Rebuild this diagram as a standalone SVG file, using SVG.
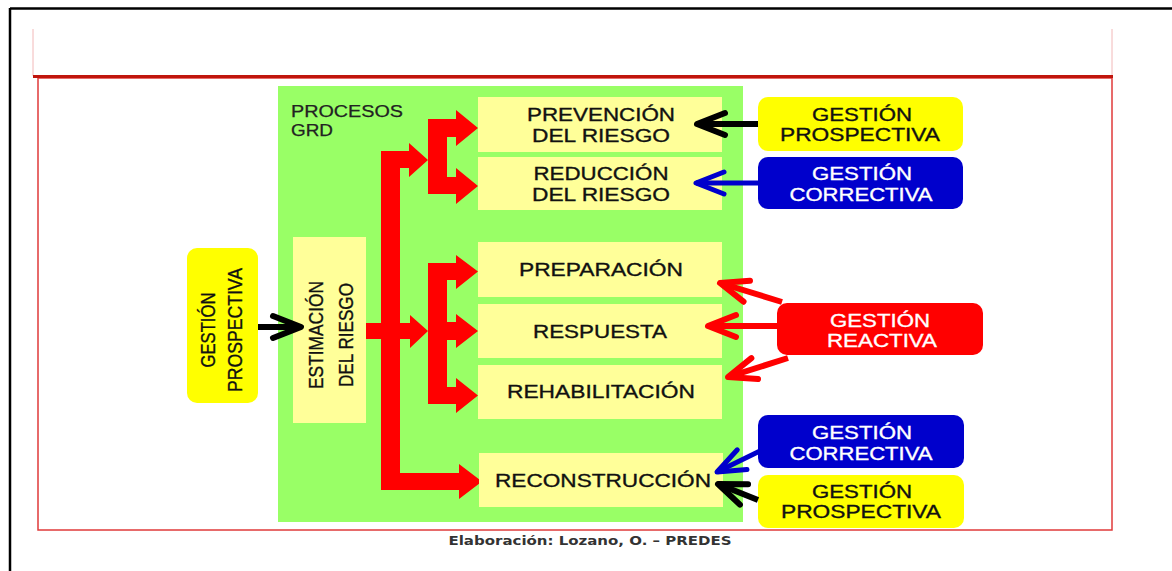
<svg xmlns="http://www.w3.org/2000/svg" width="1172" height="571" viewBox="0 0 1172 571">
<style>
.lbl{font-family:"Liberation Sans",Arial,sans-serif;font-size:19px;fill:#111;stroke:#111;stroke-width:0.35px;text-anchor:middle}
.wl{fill:#fff;stroke:#fff}
.big{font-size:21px}
.ybox{fill:#FFFF99}
.gy{fill:#FFFF00}
.gb{fill:#0000CC}
.gr{fill:#FF0000}
.red{fill:#FF0000}
.conn{fill:none;stroke-linecap:butt}
</style>
<defs>
<marker id="mk-black" markerUnits="userSpaceOnUse" markerWidth="40" markerHeight="30" refX="0" refY="0" orient="auto" overflow="visible">
<path d="M-28,-11 L0,0 L-28,11" fill="none" stroke="#000" stroke-width="6" stroke-linecap="round" stroke-linejoin="round"/>
</marker>
<marker id="mk-blue" markerUnits="userSpaceOnUse" markerWidth="40" markerHeight="30" refX="0" refY="0" orient="auto" overflow="visible">
<path d="M-28,-11 L0,0 L-28,11" fill="none" stroke="#0000CC" stroke-width="5" stroke-linecap="round" stroke-linejoin="round"/>
</marker>
<marker id="mk-red" markerUnits="userSpaceOnUse" markerWidth="40" markerHeight="30" refX="0" refY="0" orient="auto" overflow="visible">
<path d="M-28,-11 L0,0 L-28,11" fill="none" stroke="#FF0000" stroke-width="6" stroke-linecap="round" stroke-linejoin="round"/>
</marker>
</defs>
<rect width="1172" height="571" fill="#fff"/>
<g id="frame">
<line x1="10" y1="8.5" x2="1172" y2="8.5" stroke="#000" stroke-width="2.5"/>
<line x1="10" y1="8" x2="10" y2="571" stroke="#000" stroke-width="2.5"/>
<line x1="33" y1="29" x2="33" y2="76" stroke="#F2B8B8" stroke-width="1"/>
<line x1="1112" y1="29" x2="1112" y2="76" stroke="#F2B8B8" stroke-width="1"/>
<rect x="38" y="78" width="1074" height="452" fill="none" stroke="#E03A3A" stroke-width="1.5"/>
<line x1="33" y1="76.5" x2="1113" y2="76.5" stroke="#C0150C" stroke-width="3"/>
</g>
<g id="procesos-grd">
<rect x="278" y="86" width="465" height="436" fill="#99FF66"/>
<text x="291" y="117" style="font-family:'Liberation Sans',Arial,sans-serif;font-size:16px;fill:#222;stroke:#222;stroke-width:0.25px" textLength="112" lengthAdjust="spacingAndGlyphs">PROCESOS</text>
<text x="291" y="136" style="font-family:'Liberation Sans',Arial,sans-serif;font-size:16px;fill:#222;stroke:#222;stroke-width:0.25px" textLength="42" lengthAdjust="spacingAndGlyphs">GRD</text>
</g>
<g id="process-arrows" class="red">
<path d="M381,151 L409,151 L409,143 L428,160 L409,177 L409,168 L400,168 L400,473 L459,473 L459,464 L482,481.5 L459,499 L459,490 L381,490 Z"/>
<path d="M366,323 L410,323 L410,315 L428,331 L410,348 L410,339 L366,339 Z"/>
<path d="M428,119 L456,119 L456,110 L478,128 L456,146 L456,137 L447,137 L447,177 L456,177 L456,168 L478,186 L456,204 L456,194 L428,194 Z"/>
<path d="M428,263 L456,263 L456,255 L478,271.5 L456,289 L456,280 L447,280 L447,322 L456,322 L456,314 L478,331 L456,348 L456,340 L447,340 L447,387 L456,387 L456,378 L478,395.5 L456,413 L456,404 L428,404 Z"/>
</g>
<g id="estimacion">
<rect class="ybox" x="293" y="237" width="73" height="186"/>
<text class="lbl big" transform="translate(323,335) rotate(-90)" textLength="108" lengthAdjust="spacingAndGlyphs">ESTIMACIÓN</text>
<text class="lbl big" transform="translate(353,335) rotate(-90)" textLength="104" lengthAdjust="spacingAndGlyphs">DEL RIESGO</text>
</g>
<g id="prevencion">
<rect class="ybox" x="478" y="97" width="244" height="55"/>
<text class="lbl" x="601" y="121" textLength="148" lengthAdjust="spacingAndGlyphs">PREVENCIÓN</text>
<text class="lbl" x="601" y="142" textLength="138" lengthAdjust="spacingAndGlyphs">DEL RIESGO</text>
</g>
<g id="reduccion">
<rect class="ybox" x="478" y="157" width="244" height="53"/>
<text class="lbl" x="601" y="180" textLength="135" lengthAdjust="spacingAndGlyphs">REDUCCIÓN</text>
<text class="lbl" x="601" y="201" textLength="138" lengthAdjust="spacingAndGlyphs">DEL RIESGO</text>
</g>
<g id="preparacion">
<rect class="ybox" x="478" y="242" width="244" height="55"/>
<text class="lbl" x="601" y="276" textLength="164" lengthAdjust="spacingAndGlyphs">PREPARACIÓN</text>
</g>
<g id="respuesta">
<rect class="ybox" x="478" y="304" width="244" height="54"/>
<text class="lbl" x="600" y="338" textLength="134" lengthAdjust="spacingAndGlyphs">RESPUESTA</text>
</g>
<g id="rehabilitacion">
<rect class="ybox" x="478" y="365" width="244" height="54"/>
<text class="lbl" x="601" y="398" textLength="188" lengthAdjust="spacingAndGlyphs">REHABILITACIÓN</text>
</g>
<g id="reconstruccion">
<rect class="ybox" x="479" y="453" width="244" height="54"/>
<text class="lbl" x="603" y="487" textLength="216" lengthAdjust="spacingAndGlyphs">RECONSTRUCCIÓN</text>
</g>
<g id="gestion-prospectiva-left">
<rect class="gy" x="187" y="248" width="71" height="155" rx="10"/>
<text class="lbl big" transform="translate(215,330) rotate(-90)" textLength="75" lengthAdjust="spacingAndGlyphs">GESTIÓN</text>
<text class="lbl big" transform="translate(242,330) rotate(-90)" textLength="124" lengthAdjust="spacingAndGlyphs">PROSPECTIVA</text>
</g>
<g id="gestion-prospectiva-top">
<rect class="gy" x="758" y="97" width="205" height="54" rx="10"/>
<text class="lbl" x="862" y="121" textLength="100" lengthAdjust="spacingAndGlyphs">GESTIÓN</text>
<text class="lbl" x="860" y="141" textLength="160" lengthAdjust="spacingAndGlyphs">PROSPECTIVA</text>
</g>
<g id="gestion-correctiva-top">
<rect class="gb" x="758" y="157" width="205" height="52" rx="10"/>
<text class="lbl wl" x="862" y="180" textLength="100" lengthAdjust="spacingAndGlyphs">GESTIÓN</text>
<text class="lbl wl" x="861" y="201" textLength="143" lengthAdjust="spacingAndGlyphs">CORRECTIVA</text>
</g>
<g id="gestion-reactiva">
<rect class="gr" x="777" y="303" width="206" height="52" rx="10"/>
<text class="lbl wl" x="880" y="327" textLength="100" lengthAdjust="spacingAndGlyphs">GESTIÓN</text>
<text class="lbl wl" x="882" y="347" textLength="110" lengthAdjust="spacingAndGlyphs">REACTIVA</text>
</g>
<g id="gestion-correctiva-bottom">
<rect class="gb" x="758" y="415" width="206" height="53" rx="10"/>
<text class="lbl wl" x="862" y="439" textLength="100" lengthAdjust="spacingAndGlyphs">GESTIÓN</text>
<text class="lbl wl" x="861" y="460" textLength="143" lengthAdjust="spacingAndGlyphs">CORRECTIVA</text>
</g>
<g id="gestion-prospectiva-bottom">
<rect class="gy" x="758" y="475" width="206" height="53" rx="10"/>
<text class="lbl" x="862" y="498" textLength="100" lengthAdjust="spacingAndGlyphs">GESTIÓN</text>
<text class="lbl" x="861" y="518" textLength="160" lengthAdjust="spacingAndGlyphs">PROSPECTIVA</text>
</g>
<g id="connectors" class="conn">
<line x1="258" y1="327" x2="301" y2="327" stroke="#000" stroke-width="6" marker-end="url(#mk-black)"/>
<line x1="758" y1="124" x2="697" y2="124" stroke="#000" stroke-width="6" marker-end="url(#mk-black)"/>
<line x1="758" y1="183" x2="696" y2="183" stroke="#0000CC" stroke-width="5" marker-end="url(#mk-blue)"/>
<line x1="782" y1="302" x2="720" y2="283" stroke="#FF0000" stroke-width="6" marker-end="url(#mk-red)"/>
<line x1="778" y1="326" x2="708" y2="326" stroke="#FF0000" stroke-width="6" marker-end="url(#mk-red)"/>
<line x1="788" y1="358" x2="728" y2="377" stroke="#FF0000" stroke-width="6" marker-end="url(#mk-red)"/>
<line x1="768" y1="447" x2="717" y2="472" stroke="#0000CC" stroke-width="5" marker-end="url(#mk-blue)"/>
<line x1="758" y1="500" x2="718" y2="484" stroke="#000" stroke-width="6" marker-end="url(#mk-black)"/>
</g>
<text x="590" y="545" text-anchor="middle" style="font-family:'DejaVu Sans',sans-serif;font-size:12px;font-weight:bold;fill:#333" textLength="283" lengthAdjust="spacingAndGlyphs">Elaboración: Lozano, O. – PREDES</text>
</svg>
